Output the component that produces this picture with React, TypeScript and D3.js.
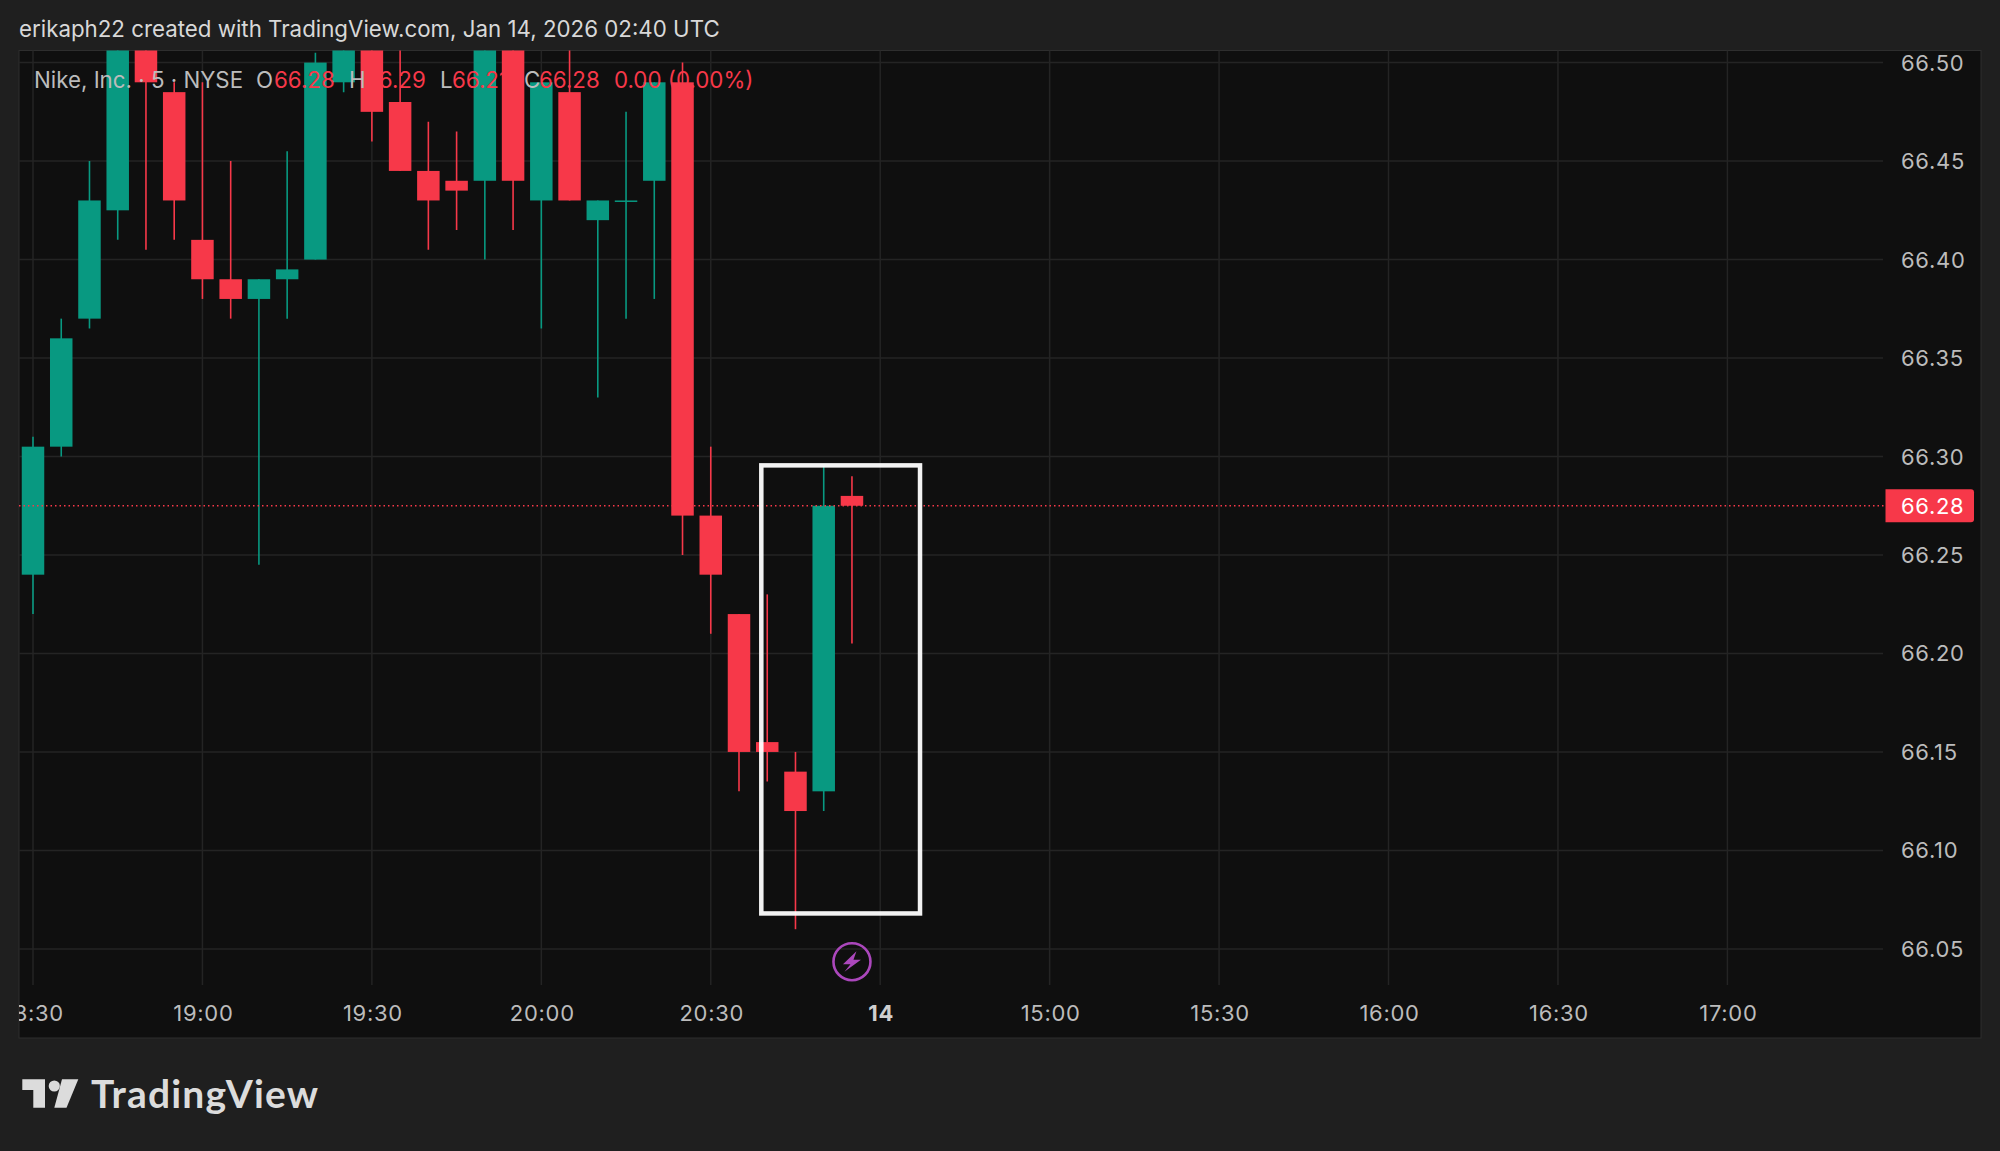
import React from 'react';
import * as d3 from 'd3';

// Nike 5 minute bars, index 0 = 18:30
const opens = [66.24, 66.305, 66.37, 66.425, 66.53, 66.485, 66.41, 66.39, 66.38, 66.39, 66.40, 66.49, 66.53, 66.48, 66.445, 66.44, 66.44, 66.53, 66.43, 66.485, 66.42, 66.43, 66.44, 66.49, 66.27, 66.22, 66.155, 66.14, 66.13, 66.28];
const highs = [66.31, 66.37, 66.45, 66.54, 66.54, 66.49, 66.49, 66.45, 66.39, 66.455, 66.505, 66.53, 66.54, 66.52, 66.47, 66.465, 66.54, 66.54, 66.49, 66.52, 66.43, 66.475, 66.49, 66.50, 66.305, 66.22, 66.23, 66.15, 66.295, 66.29];
const lows = [66.22, 66.30, 66.365, 66.41, 66.405, 66.41, 66.38, 66.37, 66.245, 66.37, 66.40, 66.485, 66.46, 66.445, 66.405, 66.415, 66.40, 66.415, 66.365, 66.43, 66.33, 66.37, 66.38, 66.25, 66.21, 66.13, 66.135, 66.06, 66.12, 66.205];
const closes = [66.305, 66.36, 66.43, 66.53, 66.49, 66.43, 66.39, 66.38, 66.39, 66.395, 66.50, 66.52, 66.475, 66.445, 66.43, 66.435, 66.53, 66.44, 66.49, 66.43, 66.43, 66.43, 66.49, 66.27, 66.24, 66.15, 66.15, 66.12, 66.275, 66.275];

const priceTicks = [66.5, 66.45, 66.4, 66.35, 66.3, 66.25, 66.2, 66.15, 66.1, 66.05];
const timeLabels = ['18:30', '19:00', '19:30', '20:00', '20:30', '14', '15:00', '15:30', '16:00', '16:30', '17:00'];
const barsPerLabel = 6;
const lastPrice = 66.275;

// white box somebody drew on the chart, in bar index / price
const boxBars = [25.79, 31.41];
const boxPrices = [66.2955, 66.068];
const flashBar = 29;
const flashPrice = 66.0435;

const UP = '#089981';
const DOWN = '#f73849';
const FONT = 'Inter, sans-serif';
const AXIS_TEXT = '#bcbcbc';

const x = d3.scaleLinear().domain([0, 60]).range([33, 1727.4]);
const y = d3.scaleLinear().domain([66.5, 66.05]).range([62.6, 948.9]);

const BODY_W = 22.5;
const plot = { left: 19, top: 50.5, right: 1981, bottom: 1038 };

export default function App() {
  return (
    <svg
      width={2000}
      height={1151}
      style={{ position: 'absolute', left: 0, top: 0, display: 'block', fontFamily: FONT }}
    >
      <defs>
        <clipPath id="plot-clip">
          <rect x={plot.left} y={plot.top} width={plot.right - plot.left} height={plot.bottom - plot.top} />
        </clipPath>
      </defs>

      <rect width={2000} height={1151} fill="#1f1f1f" />
      <rect
        x={plot.left}
        y={plot.top}
        width={plot.right - plot.left}
        height={plot.bottom - plot.top}
        fill="#0f0f0f"
        stroke="#2e2e2e"
        strokeWidth={1}
      />

      <text x={19} y={37} fontSize={22.3} fill="#d8d8d8">
        erikaph22 created with TradingView.com, Jan 14, 2026 02:40 UTC
      </text>

      <g clipPath="url(#plot-clip)">
        {priceTicks.map((p) => (
          <line key={p} x1={plot.left} x2={1883} y1={y(p)} y2={y(p)} stroke="#242424" strokeWidth={1.5} />
        ))}
        {timeLabels.map((t, i) => (
          <line key={t} x1={x(i * barsPerLabel)} x2={x(i * barsPerLabel)} y1={plot.top} y2={985} stroke="#242424" strokeWidth={1.5} />
        ))}

        {opens.map((o, i) => {
          const c = closes[i];
          const color = c >= o ? UP : DOWN;
          const top = y(Math.max(o, c));
          const bottom = y(Math.min(o, c));
          return (
            <g key={i}>
              <line x1={x(i)} x2={x(i)} y1={y(highs[i])} y2={y(lows[i])} stroke={color} strokeWidth={1.6} />
              <rect x={x(i) - BODY_W / 2} y={top} width={BODY_W} height={Math.max(bottom - top, 1.5)} fill={color} />
            </g>
          );
        })}

        <line
          x1={plot.left}
          x2={1885}
          y1={y(lastPrice)}
          y2={y(lastPrice)}
          stroke={DOWN}
          strokeWidth={1.5}
          strokeDasharray="1.5 3"
        />

        <rect
          x={x(boxBars[0])}
          y={y(boxPrices[0])}
          width={x(boxBars[1]) - x(boxBars[0])}
          height={y(boxPrices[1]) - y(boxPrices[0])}
          fill="none"
          stroke="#ffffff"
          strokeOpacity={0.95}
          strokeWidth={4.5}
        />

        <g transform={`translate(${x(flashBar)},${y(flashPrice)})`}>
          <circle r={18.5} fill="none" stroke="#ab47bc" strokeWidth={2.6} />
          <path d="M4.5 -10.5 L-9 2.5 L-1.5 2.5 L-7.5 10 L9 -2 L1.5 -2 Z" fill="#ab47bc" />
        </g>

        {timeLabels.map((t, i) => (
          <text
            key={t}
            x={x(i * barsPerLabel) + 1}
            y={1020.5}
            textAnchor="middle"
            fontSize={22}
            letterSpacing={0.7}
            fontWeight={t === '14' ? 700 : 400}
            fill={t === '14' ? '#cfcfcf' : AXIS_TEXT}
          >
            {t}
          </text>
        ))}
      </g>

      {/* legend sits on top of the candles */}
      <g fontSize={22.3}>
        <text x={34} y={88} fill={AXIS_TEXT}>Nike, Inc. · 5 · NYSE</text>
        <text x={256} y={88} fill={AXIS_TEXT}>O</text>
        <text x={274} y={88} fill={DOWN}>66.28</text>
        <text x={349} y={88} fill={AXIS_TEXT}>H</text>
        <text x={365} y={88} fill={DOWN}>66.29</text>
        <text x={440} y={88} fill={AXIS_TEXT}>L</text>
        <text x={452} y={88} fill={DOWN}>66.21</text>
        <text x={524} y={88} fill={AXIS_TEXT}>C</text>
        <text x={539} y={88} fill={DOWN}>66.28</text>
        <text x={614} y={88} fill={DOWN}>0.00 (0.00%)</text>
      </g>

      {priceTicks.map((p) => (
        <text key={p} x={1901} y={y(p) + 8} fontSize={22} letterSpacing={0.7} fill={AXIS_TEXT}>
          {d3.format('.2f')(p)}
        </text>
      ))}

      <path
        d={`M1885.5 ${y(lastPrice) - 16.5} H1971 a3 3 0 0 1 3 3 V${y(lastPrice) + 13.5} a3 3 0 0 1 -3 3 H1885.5 Z`}
        fill={DOWN}
      />
      <text x={1901} y={y(lastPrice) + 8} fontSize={22} letterSpacing={0.7} fill="#ffffff">
        66.28
      </text>

      {/* logo */}
      <g fill="#dcdcdc">
        <path d="M22.3 1079.3 H45 V1107.7 H33.3 V1090 H22.3 Z" />
        <circle cx={54.3} cy={1086} r={5.6} />
        <path d="M62 1079.3 H78.3 L66.5 1107.7 H54.3 Z" />
        <text x={91} y={1107.7} fontSize={39} fontWeight={700} fontFamily="Lato, sans-serif" textLength={227} lengthAdjust="spacing">
          TradingView
        </text>
      </g>
    </svg>
  );
}
